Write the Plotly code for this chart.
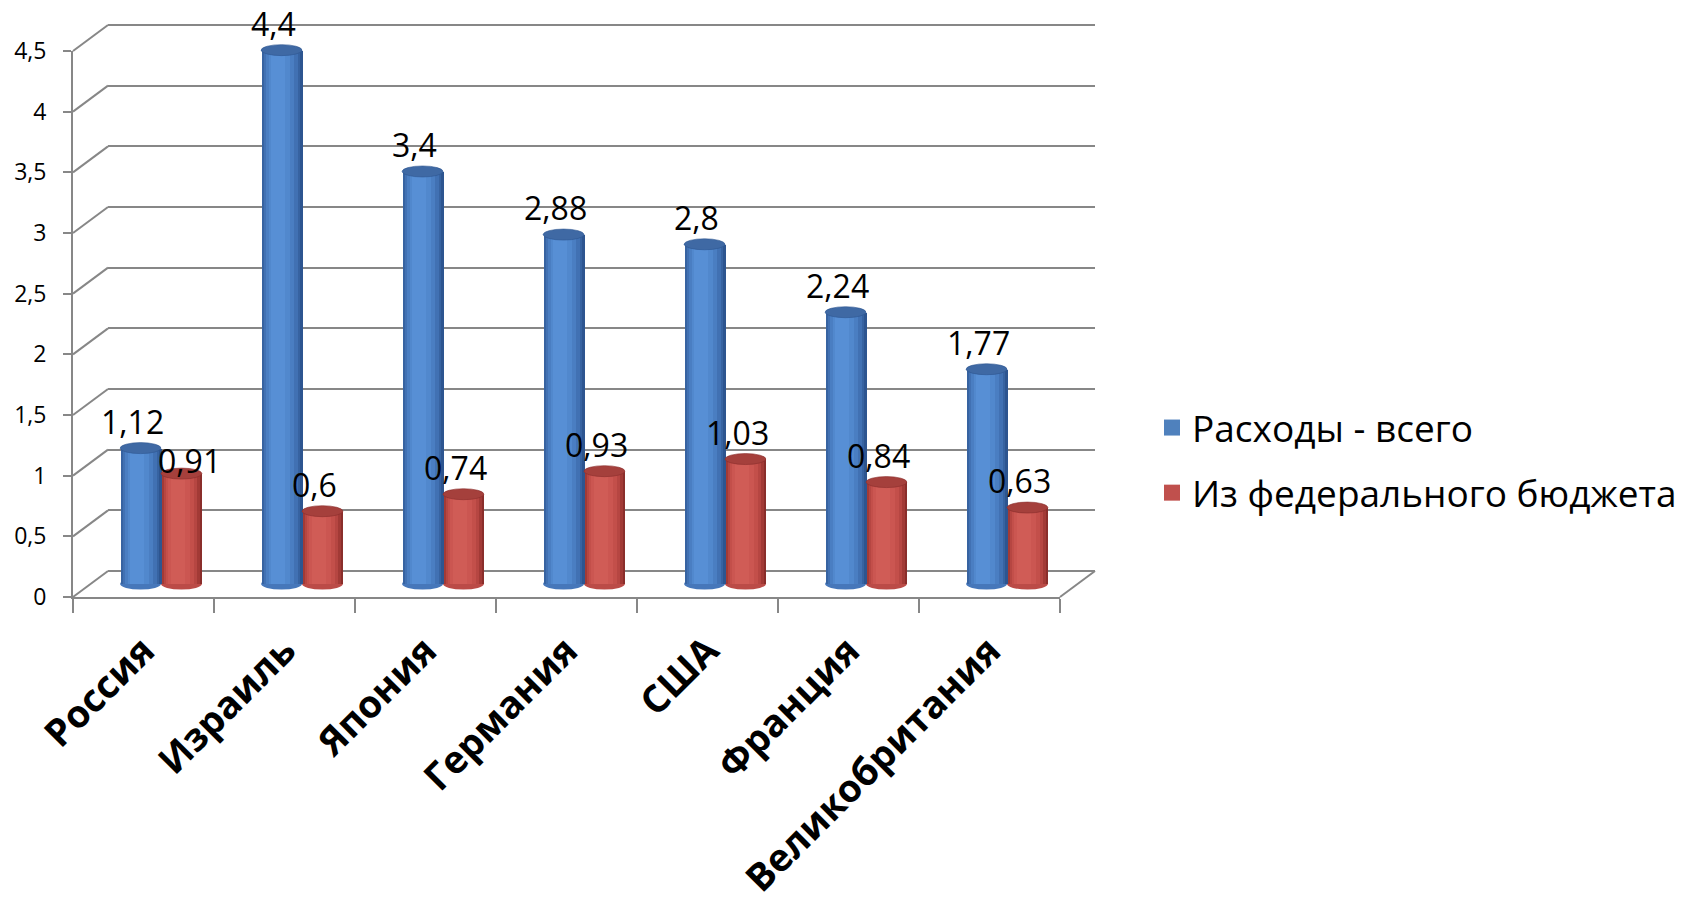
import plotly.graph_objects as go

# ---- data -------------------------------------------------------------
categories = ["Россия", "Израиль", "Япония", "Германия", "США", "Франция", "Великобритания"]
total_spend = [1.12, 4.4, 3.4, 2.88, 2.8, 2.24, 1.77]
federal_spend = [0.91, 0.6, 0.74, 0.93, 1.03, 0.84, 0.63]
series_names = ["Расходы - всего", "Из федерального бюджета"]
y_ticks = [0, 0.5, 1, 1.5, 2, 2.5, 3, 3.5, 4, 4.5]

# ---- page geometry (pixels) ------------------------------------------
W, H = 1698, 902
FONT = "Open Sans, sans-serif"
GRID = "#878787"

FRONT_X0, FRONT_X1 = 73, 1060      # front edge of the floor
FRONT_Y0, FRONT_Y4 = 597, 51       # pixel rows of 0 and 4.5 on the front plane
YMAX = 4.5
PX_PER_UNIT = (FRONT_Y0 - FRONT_Y4) / YMAX
BACK = (35, -26)                   # back wall offset
MID = (17.5, -13)                  # plane the cylinders stand on
BAR_W = 0.29                       # cylinder width in category units
CAP = 5.5 / PX_PER_UNIT            # half-height of the elliptic caps
LABEL_LIFT = 27                    # value label distance above the cap (px)
LABEL_H = 32                       # approx. label height (px)

idx = list(range(len(categories)))
x_range = [-0.5, len(categories) - 0.5]


def fx(p):
    return p / W


def fy(p):
    return 1 - p / H


def x_domain(dx):
    return [fx(FRONT_X0 + dx), fx(FRONT_X1 + dx)]


def y_domain(dy, lo, hi):
    # vertical domain for a value range [lo, hi] on a plane shifted by dy
    return [fy(FRONT_Y0 + dy - lo * PX_PER_UNIT), fy(FRONT_Y0 + dy - hi * PX_PER_UNIT)]


def to_label(v):
    return f"{v:g}".replace(".", ",")


# shading bands across a cylinder: (left, right, colour) as fractions of width
blue_bands = [
    (0.00, 1.00, "#2d5590"),
    (0.02, 0.95, "#3763a1"),
    (0.06, 0.88, "#4171b3"),
    (0.11, 0.79, "#4a7ec2"),
    (0.17, 0.69, "#5188cd"),
    (0.24, 0.58, "#578fd5"),
]
red_bands = [
    (0.00, 1.00, "#8a2e2b"),
    (0.02, 0.95, "#a23a36"),
    (0.06, 0.88, "#b64642"),
    (0.11, 0.79, "#c34f4a"),
    (0.17, 0.69, "#cb5651"),
    (0.24, 0.58, "#d05c56"),
]

series = [
    dict(name=series_names[0], values=total_spend, offset=-BAR_W, bands=blue_bands,
         legend="#4f81bd", cap="#3f69a4", base="#4677ba"),
    dict(name=series_names[1], values=federal_spend, offset=0.0, bands=red_bands,
         legend="#c0504d", cap="#a5403c", base="#bb4b47"),
]

fig = go.Figure()

# hidden trace so the back-wall subplot (and its grid) is drawn first
fig.add_trace(go.Scatter(x=[None], y=[None], xaxis="x", yaxis="y",
                         showlegend=False, hoverinfo="skip"))

shapes = []
annotations = []

for k, s in enumerate(series):
    # cylinder bodies
    for left, right, colour in s["bands"]:
        fig.add_trace(go.Bar(
            x=idx, y=s["values"], xaxis="x2", yaxis="y2",
            offset=s["offset"] + left * BAR_W, width=(right - left) * BAR_W,
            marker=dict(color=colour, line=dict(width=0)),
            showlegend=False, hoverinfo="skip",
        ))
    # legend entry
    fig.add_trace(go.Scatter(
        x=[None], y=[None], xaxis="x2", yaxis="y2", mode="markers",
        marker=dict(symbol="square", size=16, color=s["legend"]),
        name=s["name"], legendgroup=s["name"], showlegend=True,
    ))
    for i, v in zip(idx, s["values"]):
        x0 = i + s["offset"]
        x1 = x0 + BAR_W
        # rounded bottom
        shapes.append(dict(type="circle", xref="x2", yref="y2", layer="below",
                           x0=x0, x1=x1, y0=-CAP, y1=CAP,
                           fillcolor=s["base"], line=dict(width=0)))
        # top cap
        shapes.append(dict(type="circle", xref="x2", yref="y2", layer="above",
                           x0=x0, x1=x1, y0=v - CAP, y1=v + CAP,
                           fillcolor=s["cap"], line=dict(width=0.6, color=s["bands"][0][2])))
        # value label; nudged aside when it would sit on the neighbouring label
        xshift, yshift = -8, LABEL_LIFT
        if k > 0:
            prev = series[k - 1]["values"][i]
            if (prev - v) * PX_PER_UNIT < LABEL_H:
                xshift, yshift = 8, LABEL_LIFT // 2
        annotations.append(dict(
            x=(x0 + x1) / 2, y=v, xref="x2", yref="y2", text=to_label(v),
            showarrow=False, xshift=xshift, yshift=yshift,
            font=dict(family=FONT, size=32, color="#000000"),
        ))

# side wall: connect front ticks to the back wall grid lines
for t in y_ticks:
    yf = FRONT_Y0 - t * PX_PER_UNIT
    shapes.append(dict(type="line", xref="paper", yref="paper", layer="below",
                       x0=fx(FRONT_X0), y0=fy(yf),
                       x1=fx(FRONT_X0 + BACK[0]), y1=fy(yf + BACK[1]),
                       line=dict(color=GRID, width=2)))
# right edge of the floor
shapes.append(dict(type="line", xref="paper", yref="paper", layer="below",
                   x0=fx(FRONT_X1), y0=fy(FRONT_Y0),
                   x1=fx(FRONT_X1 + BACK[0]), y1=fy(FRONT_Y0 + BACK[1]),
                   line=dict(color=GRID, width=2)))

back_lo, back_hi = -0.05, YMAX + 0.05
bar_lo, bar_hi = -0.3, YMAX + 0.3

fig.update_layout(
    width=W, height=H,
    margin=dict(l=0, r=0, t=0, b=0),
    paper_bgcolor="#ffffff", plot_bgcolor="rgba(0,0,0,0)",
    barmode="overlay", bargap=0,
    separators=", ",
    font=dict(family=FONT, color="#000000"),
    showlegend=True,
    legend=dict(
        x=fx(1152), y=fy(397), xanchor="left", yanchor="top",
        font=dict(family=FONT, size=37, color="#000000"),
        traceorder="grouped", tracegroupgap=14,
        itemsizing="trace", bgcolor="rgba(0,0,0,0)",
    ),
    # back wall with its grid
    xaxis=dict(domain=x_domain(BACK[0]), range=x_range, anchor="y",
               showgrid=False, showticklabels=False, ticks="", showline=False,
               zeroline=False, automargin=False, fixedrange=True),
    yaxis=dict(domain=y_domain(BACK[1], back_lo, back_hi), range=[back_lo, back_hi], anchor="x",
               tickmode="array", tickvals=y_ticks, showgrid=True, gridcolor=GRID, gridwidth=2,
               showticklabels=False, ticks="", showline=False, zeroline=False,
               automargin=False, fixedrange=True),
    # plane of the cylinders
    xaxis2=dict(domain=x_domain(MID[0]), range=x_range, anchor="y2",
                visible=False, automargin=False, fixedrange=True),
    yaxis2=dict(domain=y_domain(MID[1], bar_lo, bar_hi), range=[bar_lo, bar_hi], anchor="x2",
                visible=False, automargin=False, fixedrange=True),
    # front axes with ticks and labels
    xaxis3=dict(domain=x_domain(0), range=x_range, anchor="y3",
                tickmode="array", tickvals=idx, ticktext=categories, ticks="", tickangle=-45,
                tickfont=dict(family=FONT, size=38, color="#000000", weight="bold"),
                ticklabelstandoff=14,
                minor=dict(tickmode="linear", tick0=-0.5, dtick=1, ticks="outside",
                           ticklen=14, tickwidth=2, tickcolor=GRID),
                showline=True, linecolor=GRID, linewidth=2,
                showgrid=False, zeroline=False, automargin=False, fixedrange=True),
    yaxis3=dict(domain=y_domain(0, 0, YMAX), range=[0, YMAX], anchor="x3",
                tickmode="array", tickvals=y_ticks, ticks="outside", ticklen=8, tickwidth=2,
                tickcolor=GRID,
                tickfont=dict(family=FONT, size=23, color="#000000"),
                ticklabelstandoff=12,
                showline=True, linecolor=GRID, linewidth=2,
                showgrid=False, zeroline=False, automargin=False, fixedrange=True),
    shapes=shapes,
    annotations=annotations,
)

# hidden trace so the front axes are drawn
fig.add_trace(go.Scatter(x=[None], y=[None], xaxis="x3", yaxis="y3",
                         showlegend=False, hoverinfo="skip"))

fig.write_html("out.html", config=dict(displayModeBar=False))
